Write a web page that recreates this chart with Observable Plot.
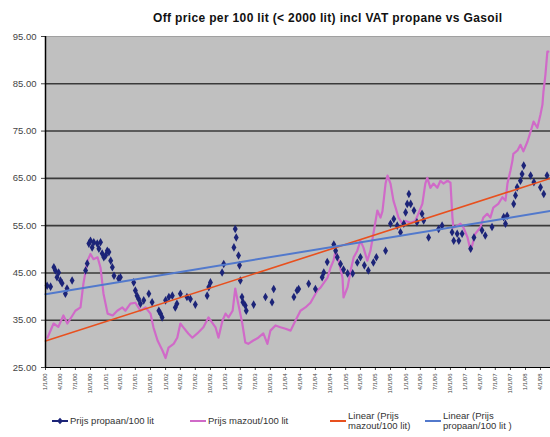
<!DOCTYPE html>
<html>
<head>
<meta charset="utf-8">
<script src="https://cdn.jsdelivr.net/npm/d3@7"></script>
<script src="https://cdn.jsdelivr.net/npm/@observablehq/plot@0.6"></script>
<style>
  html, body { margin: 0; padding: 0; background: #fff; }
  #wrap { position: relative; width: 550px; height: 437px; font-family: "Liberation Sans", Arial, sans-serif; }
  #title { position: absolute; left: 153px; top: 12px; font-size: 12px; font-weight: bold; line-height: 12px; color: #111; white-space: nowrap; }
  .leg { position: absolute; font-size: 9.5px; line-height: 10px; color: #333; white-space: nowrap; }
</style>
</head>
<body>
<div id="wrap">
  <div id="chart"></div>
  <div id="title">Off price per 100 lit (&lt; 2000 lit) incl VAT propane vs Gasoil</div>
  <div id="legend"></div>
</div>
<script>
// ---- data ----
const xTickLabels = ["1/1/00","4/1/00","7/1/00","10/1/00","1/1/01","4/1/01","7/1/01","10/1/01",
  "1/1/02","4/1/02","7/1/02","10/1/02","1/1/03","4/1/03","7/1/03","10/1/03",
  "1/1/04","4/1/04","7/1/04","10/1/04","1/1/05","4/1/05","7/1/05","10/1/05",
  "1/1/06","4/1/06","7/1/06","10/1/06","1/1/07","4/1/07","7/1/07","10/1/07",
  "1/1/08","4/1/08"];
const yTicks = [25, 35, 45, 55, 65, 75, 85, 95];
const xDomain = ["2000-01-01", "2008-06-01"];

const seriesNames = ["Prijs propaan/100 lit", "Prijs mazout/100 lit", "Linear (Prijs mazout/100 lit)", "Linear (Prijs propaan/100 lit )"];

const mazoutDates = ["2000-01-13","2000-02-19","2000-03-19","2000-04-19","2000-05-13","2000-06-13","2000-07-01","2000-08-01","2000-08-19","2000-09-13",
  "2000-10-01","2000-10-19","2000-11-13","2000-12-01","2000-12-19","2001-01-13","2001-02-13","2001-03-13","2001-04-13","2001-05-01",
  "2001-06-01","2001-07-01","2001-08-01","2001-09-01","2001-10-01","2001-10-19","2001-11-13","2001-12-13","2002-01-01","2002-01-19",
  "2002-02-19","2002-03-13","2002-04-01","2002-04-19","2002-05-19","2002-06-13","2002-07-13","2002-08-19","2002-09-19","2002-11-01",
  "2002-11-19","2002-12-13","2003-01-01","2003-01-19","2003-02-13","2003-03-01","2003-03-19","2003-04-13","2003-05-01","2003-05-19",
  "2003-06-19","2003-07-19","2003-08-19","2003-09-13","2003-10-01","2003-11-01","2003-12-01","2004-01-01","2004-02-01","2004-03-01",
  "2004-04-01","2004-05-01","2004-06-01","2004-06-19","2004-07-13","2004-08-01","2004-08-19","2004-09-13","2004-10-01","2004-10-19",
  "2004-11-01","2004-11-19","2004-12-13","2004-12-19","2005-01-13","2005-02-01","2005-02-19","2005-03-13","2005-04-01","2005-04-19",
  "2005-05-13","2005-06-01","2005-06-19","2005-07-13","2005-08-01","2005-08-13","2005-09-01","2005-09-13","2005-10-01","2005-10-19",
  "2005-11-01","2005-11-19","2005-12-13","2006-01-01","2006-02-01","2006-03-01","2006-03-19","2006-04-13","2006-05-01","2006-05-13",
  "2006-06-01","2006-06-19","2006-07-13","2006-08-01","2006-08-19","2006-09-13","2006-10-01","2006-10-13","2006-10-19","2006-11-13",
  "2006-12-01","2006-12-19","2007-01-13","2007-02-01","2007-02-13","2007-03-01","2007-04-01","2007-04-19","2007-05-13","2007-06-01",
  "2007-06-19","2007-07-19","2007-08-13","2007-09-01","2007-09-13","2007-10-01","2007-10-13","2007-10-19","2007-11-13","2007-12-01",
  "2007-12-19","2008-01-13","2008-02-01","2008-02-19","2008-03-13","2008-04-01","2008-04-13","2008-04-19","2008-05-01","2008-05-13",
  "2008-05-19"];
const mazoutValues = [31.3,34.3,33.6,36.0,34.3,36.0,37.0,37.7,42.8,47.6,
  49.0,47.9,48.3,46.1,40.6,36.4,36.0,37.0,37.7,37.0,
  38.5,38.7,37.0,37.7,36.4,33.5,30.7,28.6,27.0,29.2,
  30.0,31.3,34.3,33.5,32.2,31.3,32.2,33.5,35.6,33.5,
  31.3,34.9,36.4,35.6,37.0,41.7,38.5,34.3,30.3,30.0,
  30.7,31.3,32.2,30.0,32.8,33.9,33.5,33.2,32.8,34.9,
  37.0,37.7,38.7,39.8,41.3,41.9,42.8,44.0,46.1,47.6,
  49.7,47.6,44.0,39.8,42.0,45.6,48.3,49.7,51.8,50.4,
  47.6,49.7,53.3,58.2,56.7,58.0,63.9,65.6,63.9,60.3,
  58.8,56.7,55.4,56.0,55.6,56.0,57.5,59.6,63.9,65.1,
  63.0,63.9,63.0,64.5,63.9,64.5,64.1,56.7,54.6,55.0,
  55.4,54.6,52.5,49.7,51.2,53.3,54.6,56.7,57.5,56.7,
  58.8,59.6,61.0,60.3,63.9,66.6,68.7,70.2,70.9,72.1,
  70.7,72.8,74.9,77.0,75.7,78.5,80.6,83.3,86.9,91.8,
  91.8];

const propaneDates = ["2000-01-11","2000-02-01","2000-02-21","2000-03-01","2000-03-11","2000-03-21","2000-04-01","2000-04-11","2000-05-01","2000-05-11",
  "2000-06-11","2000-09-01","2000-09-11","2000-09-21","2000-10-01","2000-10-11","2000-10-21","2000-11-11","2000-11-21","2000-12-01",
  "2000-12-11","2000-12-21","2001-01-01","2001-01-11","2001-01-21","2001-02-01","2001-02-11","2001-02-21","2001-03-21","2001-04-01",
  "2001-06-21","2001-07-01","2001-07-11","2001-07-21","2001-08-01","2001-08-21","2001-09-21","2001-10-11","2001-11-21","2001-12-01",
  "2001-12-11","2002-01-01","2002-01-21","2002-02-11","2002-03-01","2002-03-11","2002-04-01","2002-05-11","2002-06-01","2002-07-01",
  "2002-09-11","2002-09-21","2002-10-01","2002-12-11","2002-12-21","2003-02-21","2003-03-01","2003-03-07","2003-03-21","2003-03-27",
  "2003-04-01","2003-04-11","2003-04-17","2003-05-01","2003-05-07","2003-06-21","2003-09-01","2003-10-11","2003-10-21","2004-02-21",
  "2004-03-11","2004-03-21","2004-05-21","2004-07-01","2004-08-11","2004-08-21","2004-09-11","2004-10-21","2004-11-01","2004-11-11",
  "2004-12-01","2004-12-19","2005-01-13","2005-02-13","2005-03-13","2005-04-01","2005-04-25","2005-05-19","2005-06-19","2005-07-07",
  "2005-09-01","2005-10-01","2005-10-21","2005-11-11","2005-12-01","2005-12-21","2006-01-01","2006-01-11","2006-01-21","2006-02-01",
  "2006-02-21","2006-03-11","2006-04-11","2006-04-21","2006-05-21","2006-07-21","2006-08-11","2006-10-11","2006-10-21","2006-11-11",
  "2006-11-21","2006-12-11","2007-02-01","2007-02-21","2007-04-11","2007-05-01","2007-06-11","2007-08-21","2007-09-01","2007-09-11",
  "2007-10-21","2007-11-01","2007-11-11","2007-12-01","2007-12-11","2007-12-21","2008-02-01","2008-02-21","2008-04-01","2008-04-21",
  "2008-05-11"];
const propaneValues = [42.3,42.1,46.2,45.5,44.1,45.1,43.4,42.8,40.6,41.7,
  43.4,45.5,47.0,51.2,51.8,50.4,51.5,51.2,50.1,51.5,
  49.1,48.3,48.7,49.7,49.4,47.6,46.2,44.4,43.8,44.1,
  43.0,41.3,40.2,39.5,38.5,39.2,40.6,38.8,37.0,36.4,
  35.6,39.2,39.9,40.2,37.7,38.5,40.6,39.9,39.5,38.3,
  40.2,42.0,43.0,45.1,46.9,50.4,54.3,52.5,48.7,46.6,
  43.4,39.9,38.8,38.1,37.0,38.3,39.9,38.8,41.6,39.9,
  41.3,41.6,42.7,41.6,44.1,45.1,47.3,51.0,49.7,48.3,
  46.9,45.7,44.9,44.9,47.2,48.3,46.6,45.5,47.2,48.3,
  49.7,55.4,56.4,55.0,53.6,55.4,57.8,59.6,61.7,59.6,
  58.2,55.7,57.5,56.1,52.5,54.3,55.0,53.6,51.8,53.3,
  51.8,53.3,50.1,52.5,54.0,52.9,54.7,56.8,55.4,57.1,
  59.6,61.4,63.1,64.5,65.9,67.7,65.6,64.2,63.1,61.7,
  65.6];

const trendDates = ["2000-01-01", "2008-06-01"];
const mazoutTrend = [30.6, 65.0];
const propaneTrend = [40.5, 58.1];

const colors = { propane: "#1c2478", mazout: "#d06ac8", mazoutTrend: "#e8501e", propaneTrend: "#5279cc" };

// ---- build ----
const mazout = mazoutDates.map((d, i) => ({date: new Date(d), value: mazoutValues[i]}));
const propane = propaneDates.map((d, i) => ({date: new Date(d), value: propaneValues[i]}));
const mTrend = trendDates.map((d, i) => ({date: new Date(d), value: mazoutTrend[i]}));
const pTrend = trendDates.map((d, i) => ({date: new Date(d), value: propaneTrend[i]}));
const tickDates = xTickLabels.map(s => { const [m, d, y] = s.split("/").map(Number); return new Date(Date.UTC(2000 + y, m - 1, d)); });
const labelMap = new Map(tickDates.map((d, i) => [+d, xTickLabels[i]]));

const chart = Plot.plot({
  width: 550,
  height: 437,
  marginLeft: 45,
  marginRight: 0,
  marginTop: 36,
  marginBottom: 70,
  style: { fontFamily: "'Liberation Sans', Arial, sans-serif", background: "transparent" },
  x: { type: "utc", domain: xDomain.map(d => new Date(d)) },
  y: { domain: [25, 95] },
  marks: [
    Plot.frame({ fill: "#c0c0c0", stroke: "none" }),
    Plot.ruleY(yTicks.filter(v => v > 25 && v < 95), { stroke: "#3a3a3a", strokeWidth: 1.6 }),
    Plot.ruleY([95], { stroke: "#a0a0a0", strokeWidth: 1 }),
    Plot.axisY({ ticks: yTicks, tickFormat: d => d.toFixed(2), tickSize: 4, tickPadding: 5, fontSize: 9.5, color: "#444", label: null }),
    Plot.axisX({ ticks: tickDates, tickFormat: d => labelMap.get(+d), tickRotate: -90, tickSize: 3, tickPadding: 3, fontSize: 6, color: "#444", label: null }),
    Plot.line(mazout, { x: "date", y: "value", stroke: colors.mazout, strokeWidth: 2.2 }),
    Plot.dot(propane, { x: "date", y: "value", symbol: "diamond", fill: colors.propane, r: 2.6 }),
    Plot.line(mTrend, { x: "date", y: "value", stroke: colors.mazoutTrend, strokeWidth: 1.6 }),
    Plot.line(pTrend, { x: "date", y: "value", stroke: colors.propaneTrend, strokeWidth: 2 }),
    Plot.ruleY([25], { stroke: "#000", strokeWidth: 1.2 }),
    Plot.ruleX([new Date(xDomain[0])], { stroke: "#000", strokeWidth: 1.5 })
  ]
});
document.getElementById("chart").appendChild(chart);

// fit title to the span it takes in the reference
const title = document.getElementById("title");
const titleTargetWidth = 349;
const natural = title.getBoundingClientRect().width;
title.style.letterSpacing = Math.max(0, (titleTargetWidth - natural) / (title.textContent.length - 1)) + "px";

// ---- legend ----
const legendItems = [
  { color: colors.propane, marker: true, x: 52, lines: [seriesNames[0]] },
  { color: colors.mazout, marker: false, x: 190, lines: [seriesNames[1]] },
  { color: colors.mazoutTrend, marker: false, x: 330, lines: ["Linear (Prijs", "mazout/100 lit)"] },
  { color: colors.propaneTrend, marker: false, x: 425, lines: ["Linear (Prijs", "propaan/100 lit )"] }
];
const legend = document.getElementById("legend");
legendItems.forEach(it => {
  const swW = 16;
  const sw = document.createElementNS("http://www.w3.org/2000/svg", "svg");
  sw.setAttribute("width", swW); sw.setAttribute("height", 8);
  sw.style.position = "absolute"; sw.style.left = it.x + "px"; sw.style.top = "417px";
  sw.innerHTML = `<line x1="0" x2="${swW}" y1="4" y2="4" stroke="${it.color}" stroke-width="2"/>` +
    (it.marker ? `<path d="M${swW/2},0.8L${swW/2+3},4L${swW/2},7.2L${swW/2-3},4Z" fill="${it.color}"/>` : "");
  legend.appendChild(sw);
  const t = document.createElement("div");
  t.className = "leg";
  t.style.left = (it.x + swW + 2) + "px";
  t.style.top = (it.lines.length > 1 ? 411 : 416) + "px";
  t.innerHTML = it.lines.join("<br>");
  legend.appendChild(t);
});
</script>
</body>
</html>
